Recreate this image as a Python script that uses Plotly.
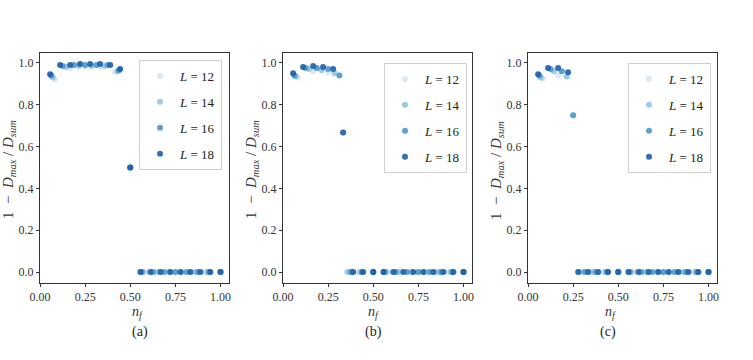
import plotly.graph_objects as go

# filling fractions n_f for each system size L
nf_12 = [0.083, 0.167, 0.25, 0.333, 0.417, 0.5, 0.583, 0.667, 0.75, 0.833, 0.917, 1.0]
nf_14 = [0.071, 0.143, 0.214, 0.286, 0.357, 0.429, 0.5, 0.571, 0.643, 0.714, 0.786, 0.857,
         0.929, 1.0]
nf_16 = [0.0625, 0.125, 0.1875, 0.25, 0.3125, 0.375, 0.4375, 0.5, 0.5625, 0.625, 0.6875,
         0.75, 0.8125, 0.875, 0.9375, 1.0]
nf_18 = [0.056, 0.111, 0.167, 0.222, 0.278, 0.333, 0.389, 0.444, 0.5, 0.556, 0.611, 0.667,
         0.722, 0.778, 0.833, 0.889, 0.944, 1.0]

# 1 - D_max / D_sum, panel (a)
a_12 = [0.92, 0.975, 0.98, 0.98, 0.955, 0.50, 0, 0, 0, 0, 0, 0]
a_14 = [0.93, 0.98, 0.985, 0.985, 0.985, 0.96, 0.50, 0, 0, 0, 0, 0, 0, 0]
a_16 = [0.94, 0.985, 0.99, 0.99, 0.99, 0.99, 0.965, 0.50, 0, 0, 0, 0, 0, 0, 0, 0]
a_18 = [0.945, 0.99, 0.99, 0.995, 0.995, 0.995, 0.99, 0.97, 0.50, 0, 0, 0, 0, 0, 0, 0, 0, 0]

# panel (b)
b_12 = [0.93, 0.96, 0.955, 0.667, 0, 0, 0, 0, 0, 0, 0, 0]
b_14 = [0.935, 0.97, 0.965, 0.95, 0, 0, 0, 0, 0, 0, 0, 0, 0, 0]
b_16 = [0.94, 0.975, 0.975, 0.97, 0.94, 0, 0, 0, 0, 0, 0, 0, 0, 0, 0, 0]
b_18 = [0.95, 0.98, 0.985, 0.98, 0.97, 0.667, 0, 0, 0, 0, 0, 0, 0, 0, 0, 0, 0, 0]

# panel (c)
c_12 = [0.925, 0.94, 0.75, 0, 0, 0, 0, 0, 0, 0, 0, 0]
c_14 = [0.93, 0.96, 0.935, 0, 0, 0, 0, 0, 0, 0, 0, 0, 0, 0]
c_16 = [0.94, 0.97, 0.96, 0.75, 0, 0, 0, 0, 0, 0, 0, 0, 0, 0, 0, 0]
c_18 = [0.945, 0.975, 0.975, 0.955, 0, 0, 0, 0, 0, 0, 0, 0, 0, 0, 0, 0, 0, 0]

sizes = [12, 14, 16, 18]
colors = ['#d6e6f4', '#94c4df', '#4a98c9', '#1c5ea8']
nf_all = [nf_12, nf_14, nf_16, nf_18]
panels = [
    ('(a)', [a_12, a_14, a_16, a_18]),
    ('(b)', [b_12, b_14, b_16, b_18]),
    ('(c)', [c_12, c_14, c_16, c_18]),
]

W, H = 753, 360
# pixel boxes of the three axes: left, right, top, bottom
boxes = [(40, 229, 53, 283), (283, 472, 53, 283), (528, 717, 53, 283)]
# legend box: right edge, top edge
legend_xy = [(222, 60), (467, 63), (711, 63)]

SERIF = 'Liberation Serif, Times New Roman, serif'

fig = go.Figure()

for i, (caption, vals) in enumerate(panels):
    n = '' if i == 0 else str(i + 1)
    legend_name = 'legend' + n
    for L, nf, v, col in zip(sizes, nf_all, vals, colors):
        fig.add_trace(go.Scatter(
            x=nf, y=v,
            mode='markers',
            name=f'<i>L</i> = {L}',
            legend=legend_name,
            legendgroup=f'{i}-{L}',
            marker=dict(color=col, size=6, opacity=0.9, line=dict(width=0)),
            xaxis='x' + n, yaxis='y' + n,
            showlegend=True,
        ))

    l, r, t, b = boxes[i]
    axis_common = dict(
        showline=True, linecolor='#333', linewidth=1, mirror=True,
        ticks='outside', ticklen=3, tickcolor='#333',
        showgrid=False, zeroline=False, automargin=False,
        tickfont=dict(family=SERIF, size=12, color='#333'),
    )
    fig.update_layout({
        'xaxis' + n: dict(
            domain=[l / W, r / W], anchor='y' + n,
            range=[0, 1.047],
            tickvals=[0, 0.25, 0.5, 0.75, 1.0],
            ticktext=['0.00', '0.25', '0.50', '0.75', '1.00'],
            **axis_common),
        'yaxis' + n: dict(
            domain=[1 - b / H, 1 - t / H], anchor='x' + n,
            range=[-0.052, 1.047],
            tickvals=[0, 0.2, 0.4, 0.6, 0.8, 1.0],
            ticktext=['0.0', '0.2', '0.4', '0.6', '0.8', '1.0'],
            **axis_common),
        legend_name: dict(
            x=legend_xy[i][0] / W, y=1 - legend_xy[i][1] / H,
            xanchor='right', yanchor='top',
            bgcolor='white', bordercolor='#d0d0d0', borderwidth=1,
            font=dict(family=SERIF, size=13, color='#222'),
            tracegroupgap=6, itemwidth=30,
        ),
    })

    x0 = l + (r - l) * 0.5 / 1.047
    fig.add_annotation(
        x=(x0) / W, y=1 - 323 / H, xref='paper', yref='paper',
        text='<i>n</i><sub><i>f</i></sub>', showarrow=False,
        font=dict(family=SERIF, size=14, color='#333'))
    fig.add_annotation(
        x=(x0) / W, y=1 - 342 / H, xref='paper', yref='paper',
        text=caption, showarrow=False,
        font=dict(family=SERIF, size=14, color='#222'))
    # y label: anchored by its right side so it never runs into the tick labels
    fig.add_annotation(
        x=(l - 20) / W, y=1 - 170 / H, xref='paper', yref='paper',
        xanchor='right', yanchor='middle',
        text='1  \u2212  <i>D</i><sub><i>max</i></sub> / <i>D</i><sub><i>sum</i></sub>',
        textangle=-90, showarrow=False,
        font=dict(family=SERIF, size=15, color='#333'))

fig.update_layout(
    width=W, height=H,
    margin=dict(l=0, r=0, t=0, b=0),
    plot_bgcolor='white', paper_bgcolor='white',
)

fig.write_html('out.html', config={'displayModeBar': False},
               post_script="document.body.style.margin='0';")
